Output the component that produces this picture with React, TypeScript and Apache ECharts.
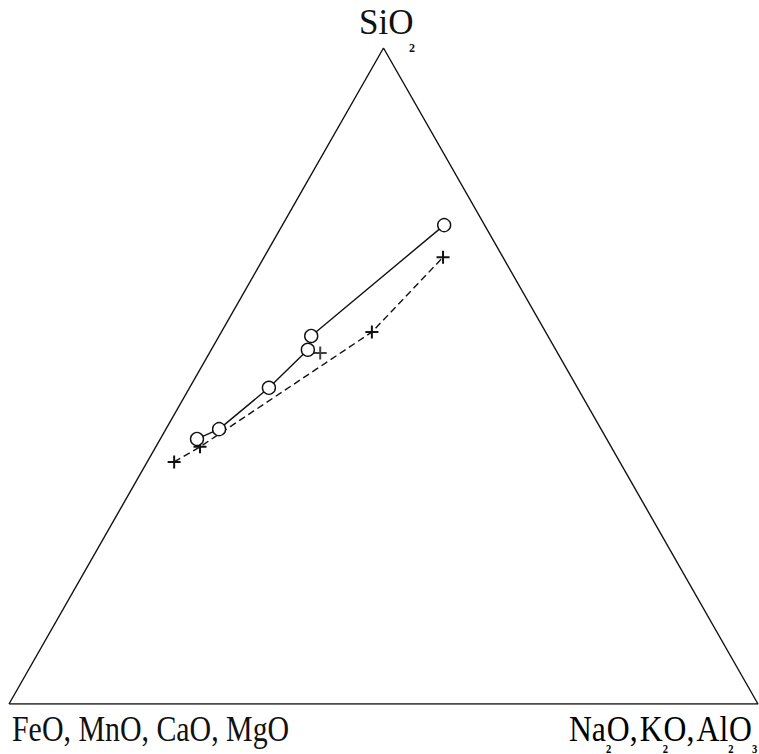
import React, { useEffect, useRef } from 'react';
import * as echarts from 'echarts';

// Ternary compositions (percent): SiO2 / FeO+MnO+CaO+MgO / Na2O+K2O+Al2O3
const circleSiO2 = [40.4, 41.9, 48.2, 54.0, 56.1, 73.0];
const circleFeO = [54.7, 51.0, 41.2, 33.1, 31.6, 5.4];
const circleAlk = [4.9, 7.1, 10.6, 12.9, 12.3, 21.6];

const crossLineSiO2 = [36.9, 39.2, 56.7, 68.1];
const crossLineFeO = [59.5, 54.9, 23.2, 8.0];
const crossLineAlk = [3.6, 5.9, 20.1, 23.9];

const crossSoloSiO2 = [53.5];
const crossSoloFeO = [31.7];
const crossSoloAlk = [14.8];

// Triangle vertices: FeO apex, alkali apex, SiO2 apex, back to start
const triSiO2 = [0, 0, 100, 0];
const triFeO = [100, 0, 0, 100];
const triAlk = [0, 100, 0, 0];

const labelTop = 'SiO';
const labelTopSub = '2';
const labelLeft = 'FeO, MnO, CaO, MgO';

function toXY(si: number[], fe: number[], alk: number[]) {
  return si.map((s, i) => {
    const t = s + fe[i] + alk[i];
    return [(alk[i] + s / 2) / t, s / t];
  });
}

const FONT = '"Liberation Serif", "DejaVu Serif", serif';
const CROSS = 'path://M0,6L12,6M6,0L6,12';

export default function App() {
  const ref = useRef<HTMLDivElement>(null);
  useEffect(() => {
    const chart = echarts.init(ref.current!, null, { renderer: 'svg' });
    const sub = {
      fontFamily: FONT,
      fontSize: 12,
      fontWeight: 'bold',
      lineHeight: 10,
      width: 1,
      verticalAlign: 'bottom',
      color: '#111',
    };
    const main = { fontFamily: FONT, fontSize: 36, lineHeight: 52, color: '#111' };
    const sp = { fontFamily: FONT, fontSize: 10, lineHeight: 52, color: '#111' };
    const option: any = {
      animation: false,
      backgroundColor: '#ffffff',
      grid: { left: 9, right: 1, top: 48, bottom: 50, containLabel: false },
      xAxis: { type: 'value', min: 0, max: 1, show: false },
      yAxis: { type: 'value', min: 0, max: 1, show: false },
      series: [
        {
          type: 'line',
          data: toXY(triSiO2, triFeO, triAlk),
          symbol: 'none',
          silent: true,
          lineStyle: { color: '#111', width: 1.4 },
          z: 1,
        },
        {
          type: 'line',
          data: toXY(crossLineSiO2, crossLineFeO, crossLineAlk),
          symbol: CROSS,
          symbolSize: 13,
          itemStyle: { color: 'transparent', borderColor: '#111', borderWidth: 2 },
          lineStyle: { color: '#111', width: 1.4, type: [7, 4] },
          z: 2,
        },
        {
          type: 'scatter',
          data: toXY(crossSoloSiO2, crossSoloFeO, crossSoloAlk),
          symbol: CROSS,
          symbolSize: 13,
          itemStyle: { color: 'transparent', borderColor: '#111', borderWidth: 2 },
          z: 2,
        },
        {
          type: 'line',
          data: toXY(circleSiO2, circleFeO, circleAlk),
          symbol: 'circle',
          symbolSize: 13,
          itemStyle: { color: '#ffffff', borderColor: '#111', borderWidth: 1.4 },
          lineStyle: { color: '#111', width: 1.4 },
          z: 3,
        },
      ],
      graphic: [
        {
          type: 'text',
          x: 359,
          y: 22,
          style: {
            text: labelTop,
            fontFamily: FONT,
            fontSize: 35,
            lineHeight: 38,
            fill: '#111',
            textVerticalAlign: 'middle',
          },
        },
        {
          type: 'text',
          x: 409,
          y: 48,
          style: {
            text: labelTopSub,
            fontFamily: FONT,
            fontSize: 12,
            lineHeight: 10,
            fontWeight: 'bold',
            fill: '#111',
            textVerticalAlign: 'middle',
          },
        },
        {
          type: 'text',
          x: 12,
          y: 703,
          scaleX: 0.83,
          style: {
            text: labelLeft,
            fontFamily: FONT,
            fontSize: 36,
            lineHeight: 52,
            fill: '#111',
            textVerticalAlign: 'top',
          },
        },
        {
          type: 'text',
          x: 569,
          y: 703,
          scaleX: 0.88,
          style: {
            text: '{m|Na}{s|2}{m|O,}{p| }{m|K}{s|2}{m|O,}{p| }{m|Al}{s|2}{m|O}{s|3}',
            rich: { m: main, s: sub, p: sp },
            textVerticalAlign: 'top',
          },
        },
      ],
    };
    chart.setOption(option);
    return () => chart.dispose();
  }, []);
  return (
    <div
      ref={ref}
      style={{ position: 'fixed', left: 0, top: 0, width: 759, height: 754, background: '#fff' }}
    />
  );
}
